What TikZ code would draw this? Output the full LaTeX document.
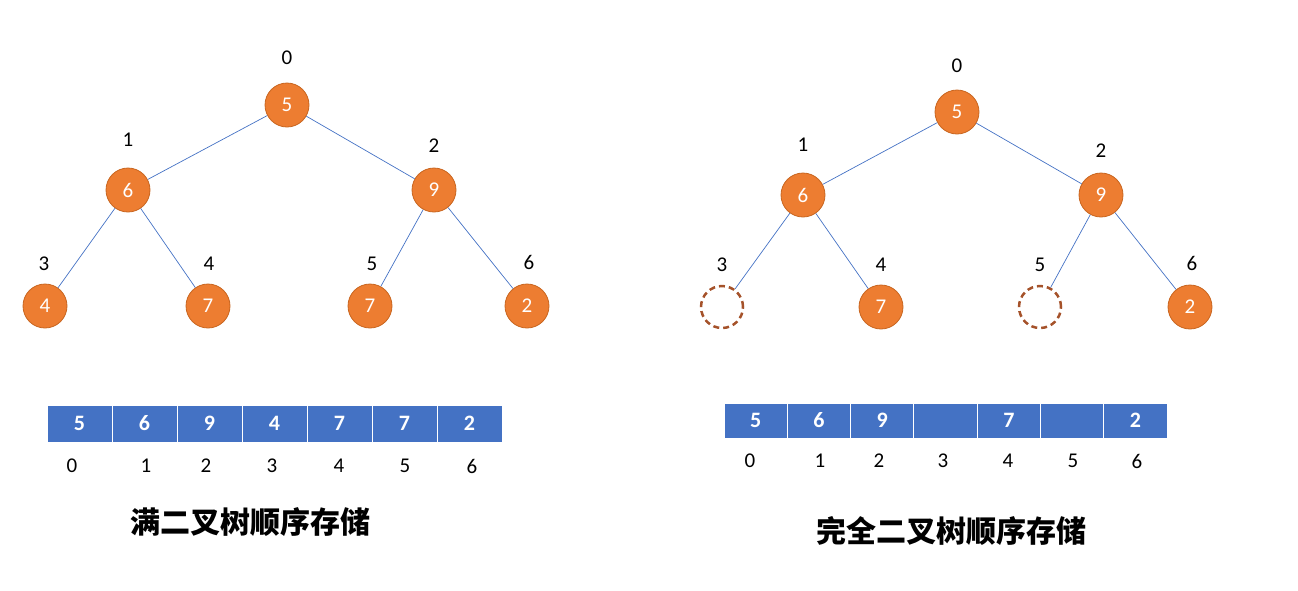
\documentclass[tikz,border=0pt]{standalone}
\usepackage{fontspec}
\setmainfont{Carlito}
\newfontfamily\cjk{Noto Sans CJK SC}
\begin{document}
\begin{tikzpicture}[x=1pt,y=-1pt,
  nd/.style={circle,fill=orange1,draw=orange2,line width=0.8pt,minimum size=44pt,inner sep=0pt,text=white,font=\fontsize{21}{21}\selectfont},
  emp/.style={circle,draw=brown1,dashed,dash pattern=on 6pt off 4pt,line width=2.5pt,minimum size=42pt,inner sep=0pt},
  lb/.style={font=\fontsize{21}{21}\selectfont},
  ed/.style={draw=blue1,line width=0.7pt},
  cell/.style={fill=blue1,draw=white,line width=1pt,text=white,font=\bfseries\fontsize{22}{22}\selectfont,inner sep=0pt},
  ttl/.style={font=\cjk\bfseries\fontsize{30}{30}\selectfont}]
\definecolor{orange1}{HTML}{ED7D31}
\definecolor{orange2}{HTML}{C8651F}
\definecolor{brown1}{HTML}{A5522A}
\definecolor{blue1}{HTML}{4472C4}
\useasboundingbox (0,0) rectangle (1298,590);
% left tree
\node[nd] (a0) at (287,105) {5};
\node[nd] (a1) at (128,190) {6};
\node[nd] (a2) at (434,190) {9};
\node[nd] (a3) at (45,306) {4};
\node[nd] (a4) at (208,306) {7};
\node[nd] (a5) at (370,306) {7};
\node[nd] (a6) at (527,306) {2};
\foreach \p/\c in {a0/a1,a0/a2,a1/a3,a1/a4,a2/a5,a2/a6} \draw[ed] (\p) -- (\c);
\node[lb] (la0) at (287,58) {0};
\node[lb] (la1) at (128,140) {1};
\node[lb] (la2) at (434,146) {2};
\node[lb] (la3) at (44,264) {3};
\node[lb] (la4) at (209,264) {4};
\node[lb] (la5) at (372,264) {5};
\node[lb] (la6) at (529,262) {6};
% right tree
\node[nd] (b0) at (957,112) {5};
\node[nd] (b1) at (803,195) {6};
\node[nd] (b2) at (1101,195) {9};
\node[emp] (b3) at (722,307) {};
\node[nd] (b4) at (881,307) {7};
\node[emp] (b5) at (1040,307) {};
\node[nd] (b6) at (1190,307) {2};
\foreach \p/\c in {b0/b1,b0/b2,b1/b3,b1/b4,b2/b5,b2/b6} \draw[ed] (\p) -- (\c);
\node[lb] (lb0) at (957,66) {0};
\node[lb] (lb1) at (803,145) {1};
\node[lb] (lb2) at (1101,151) {2};
\node[lb] (lb3) at (722,265) {3};
\node[lb] (lb4) at (881,265) {4};
\node[lb] (lb5) at (1040,265) {5};
\node[lb] (lb6) at (1192,263) {6};
% left array
\foreach \v [count=\i from 0] in {5,6,9,4,7,7,2} {
  \node[cell,minimum width=65pt,minimum height=37pt] (ca\i) at ({47+32.5+65*\i},423.5) {\v};
}
\foreach \x [count=\i from 0] in {72,146,206,272,339,405,472}
  \node[lb] (ia\i) at (\x,466) {\i};
% right array
\foreach \v [count=\i from 0] in {5,6,9,{},7,{},2} {
  \node[cell,minimum width=63.3pt,minimum height=35pt] (cb\i) at ({724+31.65+63.3*\i},420.5) {\v};
}
\foreach \x [count=\i from 0] in {750,820,879,943,1008,1073,1137}
  \node[lb] (ib\i) at (\x,461) {\i};
\node[ttl] (t1) at (250,522) {满二叉树顺序存储};
\node[ttl] (t2) at (951,531) {完全二叉树顺序存储};
\end{tikzpicture}
\end{document}
